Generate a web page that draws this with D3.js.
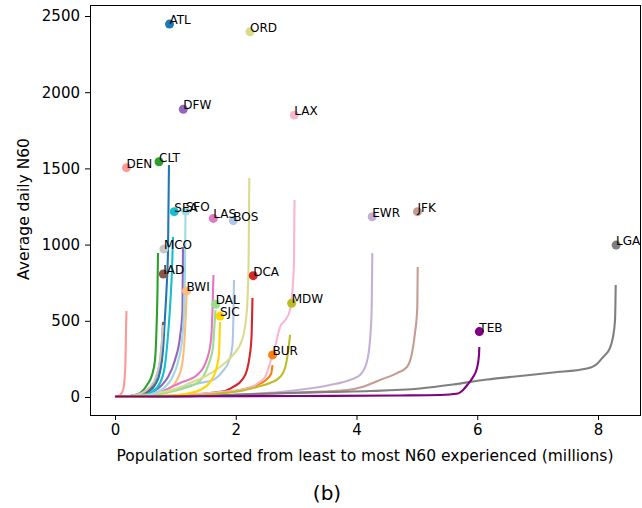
<!DOCTYPE html>
<html>
<head>
<meta charset="utf-8">
<script src="https://cdn.jsdelivr.net/npm/d3@7/dist/d3.min.js"></script>
<style>
  body { margin: 0; background: #fff; }
  text { font-family: "DejaVu Sans", sans-serif; }
</style>
</head>
<body>
<div id="main"></div>
<script>
'use strict';

// airports, alphabetical (this is also the colour order)
var airports = ['ATL', 'BOS', 'BUR', 'BWI', 'CLT', 'DAL', 'DCA', 'DEN', 'DFW', 'EWR', 'IAD',
	'JFK', 'LAS', 'LAX', 'LGA', 'MCO', 'MDW', 'ORD', 'SEA', 'SFO', 'SJC', 'TEB'];

// scatter point for each airport: total population (millions) and average daily N60
var popMillions = [0.903, 1.96, 2.61, 1.184, 0.729, 1.667, 2.29, 0.19, 1.131, 4.26, 0.80,
	5.01, 1.628, 2.97, 8.30, 0.81, 2.926, 2.236, 0.982, 1.171, 1.739, 6.035];
var avgN60 = [2447, 1157, 276, 696, 1544, 608, 796, 1505, 1888, 1183, 807,
	1216, 1172, 1850, 997, 971, 615, 2397, 1216, 1220, 531, 429];

// sorted population curves [population millions, N60]
var curveATL = [[0, 0], [0.331, 7], [0.547, 33], [0.663, 79], [0.745, 164], [0.795, 308], [0.828, 525], [0.853, 702], [0.878, 965], [0.894, 1522]];
var curveBOS = [[0, 0], [0.580, 13], [1.077, 59], [1.408, 92], [1.623, 112], [1.789, 171], [1.888, 236], [1.946, 341], [1.963, 571], [1.971, 768]];
var curveBUR = [[0, 0], [1.408, 13], [2.070, 46], [2.352, 79], [2.501, 112], [2.584, 151], [2.609, 210]];
var curveBWI = [[0, 0], [0.497, 7], [0.745, 26], [0.911, 59], [1.027, 112], [1.110, 210], [1.151, 374], [1.176, 571], [1.184, 669]];
var curveCLT = [[0, 0], [0.248, 7], [0.414, 26], [0.530, 79], [0.613, 144], [0.663, 243], [0.687, 440], [0.704, 702], [0.712, 945]];
var curveDAL = [[0, 0], [0.580, 7], [0.911, 33], [1.159, 59], [1.308, 79], [1.458, 131], [1.557, 223], [1.623, 328], [1.648, 472], [1.665, 571]];
var curveDCA = [[0, 0], [0.911, 7], [1.573, 26], [1.822, 39], [1.971, 69], [2.104, 112], [2.186, 177], [2.228, 262], [2.261, 394], [2.277, 650]];
var curveDEN = [[0, 0], [0.083, 13], [0.133, 46], [0.157, 112], [0.174, 243], [0.182, 440], [0.190, 564]];
var curveDFW = [[0, 0], [0.414, 7], [0.629, 33], [0.778, 79], [0.878, 131], [0.994, 243], [1.077, 394], [1.118, 571], [1.126, 984]];
var curveEWR = [[0, 0], [1.408, 7], [2.236, 20], [2.733, 33], [3.280, 59], [3.561, 79], [3.892, 112], [4.058, 144], [4.166, 223], [4.224, 374], [4.252, 591], [4.262, 945]];
var curveIAD = [[0, 0], [0.331, 7], [0.497, 26], [0.613, 72], [0.696, 144], [0.762, 276], [0.787, 407], [0.795, 492]];
var curveJFK = [[0, 0], [1.408, 7], [2.236, 16], [3.064, 30], [3.843, 46], [4.108, 68], [4.389, 112], [4.671, 157], [4.836, 197], [4.919, 289], [4.969, 420], [5.007, 591], [5.014, 853]];
var curveLAS = [[0, 0], [0.414, 7], [0.745, 33], [1.077, 92], [1.358, 144], [1.507, 230], [1.590, 374], [1.615, 571], [1.631, 801]];
var curveLAX = [[0, 0], [1.077, 13], [1.739, 33], [2.236, 59], [2.369, 92], [2.484, 131], [2.567, 223], [2.650, 328], [2.733, 459], [2.832, 512], [2.899, 571], [2.940, 702], [2.965, 899], [2.973, 1293]];
var curveLGA = [[0, 0], [1.408, 7], [2.567, 23], [3.561, 33], [4.224, 39], [5.052, 56], [5.598, 82], [6.161, 115], [6.708, 138], [7.255, 161], [7.818, 187], [7.983, 217], [8.083, 262], [8.199, 322], [8.248, 394], [8.282, 505], [8.293, 735]];
var curveMCO = [[0, 0], [0.248, 7], [0.447, 26], [0.580, 66], [0.679, 131], [0.745, 243], [0.778, 374], [0.795, 472]];
var curveMDW = [[0, 0], [1.077, 7], [1.524, 16], [1.789, 26], [2.070, 39], [2.352, 66], [2.567, 92], [2.733, 131], [2.816, 190], [2.865, 289], [2.899, 407]];
var curveORD = [[0, 0], [0.580, 20], [0.994, 52], [1.242, 92], [1.474, 131], [1.739, 197], [1.954, 276], [2.104, 374], [2.178, 538], [2.211, 833], [2.219, 1161], [2.224, 1437]];
var curveSEA = [[0, 0], [0.414, 7], [0.613, 33], [0.745, 92], [0.828, 210], [0.878, 407], [0.919, 637], [0.944, 833], [0.961, 1050]];
var curveSFO = [[0, 0], [0.414, 7], [0.663, 26], [0.828, 66], [0.944, 125], [1.043, 230], [1.110, 374], [1.143, 571], [1.159, 833], [1.168, 1214]];
var curveSJC = [[0, 0], [0.745, 7], [1.159, 20], [1.408, 46], [1.573, 98], [1.673, 177], [1.723, 289], [1.739, 492]];
var curveTEB = [[0, 3], [3.064, 7], [4.720, 10], [5.383, 13], [5.681, 23], [5.764, 46], [5.847, 85], [5.930, 131], [5.996, 190], [6.029, 276], [6.034, 328]];

var curveList = [curveATL, curveBOS, curveBUR, curveBWI, curveCLT, curveDAL, curveDCA, curveDEN, curveDFW, curveEWR, curveIAD,
	curveJFK, curveLAS, curveLAX, curveLGA, curveMCO, curveMDW, curveORD, curveSEA, curveSFO, curveSJC, curveTEB];

var xTicks = [0, 2, 4, 6, 8];
var yTicks = [0, 500, 1000, 1500, 2000, 2500];

// tab20 followed by gold and purple
var palette = ['#1f77b4', '#aec7e8', '#ff7f0e', '#ffbb78', '#2ca02c', '#98df8a', '#d62728', '#ff9896',
	'#9467bd', '#c5b0d5', '#8c564b', '#c49c94', '#e377c2', '#f7b6d2', '#7f7f7f', '#c7c7c7',
	'#bcbd22', '#dbdb8d', '#17becf', '#9edae5', '#ffd700', '#800080'];

var width = 642;
var height = 508;
var plotLeft = 90, plotRight = 641, plotTop = 5, plotBottom = 415;

var x = d3.scaleLinear().domain([-0.414, 8.712]).range([plotLeft, plotRight]);
var y = d3.scaleLinear().domain([-118.1, 2572.2]).range([plotBottom, plotTop]);

var svg = d3.select('#main').append('svg')
	.attr('width', width)
	.attr('height', height);

var plot = svg.append('g');

var line = d3.line()
	.x(function (d) { return x(d[0]); })
	.y(function (d) { return y(d[1]); })
	.curve(d3.curveMonotoneX);

plot.selectAll('path.curve').data(curveList).enter().append('path')
	.attr('class', 'curve')
	.attr('d', line)
	.attr('fill', 'none')
	.attr('stroke', function (d, i) { return palette[i]; })
	.attr('stroke-width', 2.1)
	.attr('stroke-linejoin', 'round');

plot.selectAll('circle').data(airports).enter().append('circle')
	.attr('cx', function (d, i) { return x(popMillions[i]); })
	.attr('cy', function (d, i) { return y(avgN60[i]); })
	.attr('r', 4.5)
	.attr('fill', function (d, i) { return palette[i]; });

plot.selectAll('text.lbl').data(airports).enter().append('text')
	.attr('class', 'lbl')
	.attr('x', function (d, i) { return x(popMillions[i]); })
	.attr('y', function (d, i) { return y(avgN60[i]); })
	.attr('font-size', '12px')
	.attr('fill', '#000')
	.text(function (d) { return d; });

// axes
var xAxis = svg.append('g')
	.attr('transform', 'translate(0,' + plotBottom + ')')
	.call(d3.axisBottom(x).tickValues(xTicks).tickSize(5).tickPadding(4).tickFormat(d3.format('d')));
var yAxis = svg.append('g')
	.attr('transform', 'translate(' + plotLeft + ',0)')
	.call(d3.axisLeft(y).tickValues(yTicks).tickSize(5).tickPadding(5).tickFormat(d3.format('d')));

[xAxis, yAxis].forEach(function (a) {
	a.select('.domain').remove();
	a.selectAll('line').attr('stroke', '#000').attr('stroke-width', 1);
	a.selectAll('text').attr('font-size', '15px').attr('fill', '#000')
		.style('font-family', '"DejaVu Sans", sans-serif');
});

svg.append('rect')
	.attr('x', plotLeft + 0.5)
	.attr('y', plotTop + 0.5)
	.attr('width', plotRight - plotLeft - 1)
	.attr('height', plotBottom - plotTop)
	.attr('fill', 'none')
	.attr('stroke', '#000')
	.attr('stroke-width', 1);

svg.append('text')
	.attr('x', 365)
	.attr('y', 461)
	.attr('text-anchor', 'middle')
	.attr('font-size', '15.5px')
	.text('Population sorted from least to most N60 experienced (millions)');

svg.append('text')
	.attr('transform', 'translate(29,209) rotate(-90)')
	.attr('text-anchor', 'middle')
	.attr('font-size', '15.5px')
	.text('Average daily N60');

svg.append('text')
	.attr('x', 327)
	.attr('y', 500)
	.attr('text-anchor', 'middle')
	.attr('font-size', '20px')
	.text('(b)');
</script>
</body>
</html>
